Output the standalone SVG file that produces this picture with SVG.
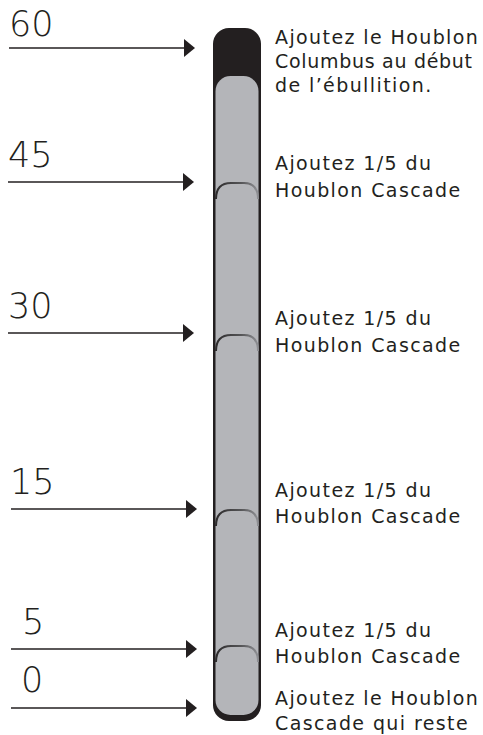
<svg xmlns="http://www.w3.org/2000/svg" width="483" height="735" viewBox="0 0 483 735">
<style>
.num{font-family:"DejaVu Sans",sans-serif;font-weight:200;font-size:35px;fill:#231f20}
.lbl{font-family:"DejaVu Sans",sans-serif;font-size:19px;letter-spacing:1.4px;fill:#231f20}
.tight{letter-spacing:0.7px}
.arr{stroke:#231f20;stroke-width:1.6;fill:none;marker-end:url(#ah)}
.seam{stroke:url(#sg);stroke-width:2;fill:none}
</style>
<defs>
<marker id="ah" markerUnits="userSpaceOnUse" markerWidth="12" markerHeight="20" refX="0" refY="9" orient="auto" viewBox="0 0 12 18">
<path d="M0,0 L11,9 L0,18 Z" fill="#231f20"/>
</marker>
<linearGradient id="sg" x1="0" y1="0" x2="1" y2="0">
<stop offset="0" stop-color="#2d2b2c"/>
<stop offset="0.6" stop-color="#555557"/>
<stop offset="1" stop-color="#8f9094"/>
</linearGradient>
</defs>
<g id="tube">
<rect x="213" y="28" width="48" height="693" rx="16" ry="16" fill="#231f20"/>
<rect x="215.5" y="76" width="43" height="639" rx="15" ry="15" fill="#b4b5b9"/>
</g>
<g id="connectors">
<line class="arr" x1="9" y1="48" x2="184" y2="48"/>
<line class="arr" x1="8" y1="182" x2="183" y2="182"/>
<line class="arr" x1="8" y1="333" x2="183" y2="333"/>
<line class="arr" x1="11" y1="509" x2="186" y2="509"/>
<line class="arr" x1="11" y1="649" x2="186" y2="649"/>
<line class="arr" x1="11" y1="708" x2="186" y2="708"/>
</g>
<g id="seams">
<path class="seam" d="M216,199 Q216,183 231,183 H244 Q258,183 258,199"/>
<path class="seam" d="M216,351 Q216,335 231,335 H244 Q258,335 258,351"/>
<path class="seam" d="M216,526 Q216,510 231,510 H244 Q258,510 258,526"/>
<path class="seam" d="M216,662 Q216,646 231,646 H244 Q258,646 258,662"/>
</g>
<g id="n60"><text class="num" x="9" y="36">60</text>
<text class="lbl" x="275" y="44">Ajoutez le Houblon</text>
<text class="lbl tight" x="275" y="68">Columbus au début</text>
<text class="lbl" x="275" y="92">de l’ébullition.</text></g>
<g id="n45"><text class="num" x="8" y="167">45</text>
<text class="lbl" x="275" y="170">Ajoutez 1/5 du</text>
<text class="lbl" x="275" y="197">Houblon Cascade</text></g>
<g id="n30"><text class="num" x="8" y="318">30</text>
<text class="lbl" x="275" y="325">Ajoutez 1/5 du</text>
<text class="lbl" x="275" y="352">Houblon Cascade</text></g>
<g id="n15"><text class="num" x="10" y="494">15</text>
<text class="lbl" x="275" y="497">Ajoutez 1/5 du</text>
<text class="lbl" x="275" y="523">Houblon Cascade</text></g>
<g id="n5"><text class="num" x="22" y="634">5</text>
<text class="lbl" x="275" y="637">Ajoutez 1/5 du</text>
<text class="lbl" x="275" y="663">Houblon Cascade</text></g>
<g id="n0"><text class="num" x="21" y="692">0</text>
<text class="lbl" x="275" y="705">Ajoutez le Houblon</text>
<text class="lbl" x="275" y="730">Cascade qui reste</text></g>
</svg>
